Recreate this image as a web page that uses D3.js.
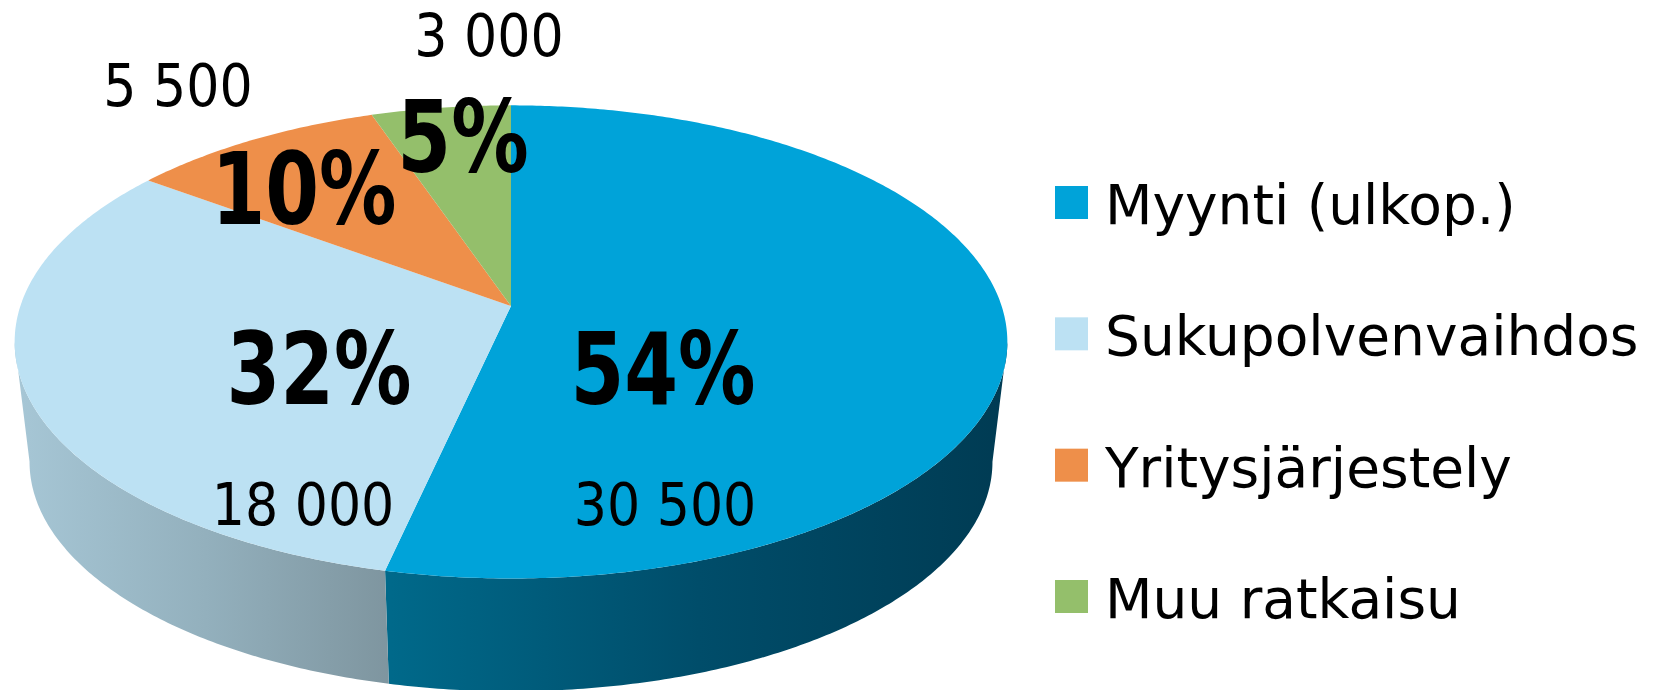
<!DOCTYPE html>
<html>
<head>
<meta charset="utf-8">
<script src="https://cdn.jsdelivr.net/npm/d3@7"></script>
<style>
  html, body { margin: 0; padding: 0; background: #fff; }
  svg { display: block; }
</style>
</head>
<body>
<div id="chart"></div>
<script>
const width = 1656;
const height = 690;

const categories = ["Myynti (ulkop.)", "Sukupolvenvaihdos", "Yritysjärjestely", "Muu ratkaisu"];
const values = [30500, 18000, 5500, 3000];
const colors = ["#00a3d9", "#bce1f3", "#ee8f4a", "#94bf6b"];

// label placement relative to the pie apex (percent label, value label)
const pctOffset = [[152, 98], [-192, 98], [-207, -82], [-48, -134]];
const valOffset = [[154, 219], [-208, 219], [-333, -200], [-22, -250]];

// perspective pie geometry
const X0 = 511, Y0 = 306;     // projected centre (apex)
const A = 490.6, B = 231.1;   // horizontal / vertical radius factors
const k = 0.1518;             // perspective strength
const depth = 121;
const shrink = 0.97;          // bottom rim is a bit further away

const svg = d3.select("#chart")
  .append("svg")
  .attr("width", width)
  .attr("height", height);

const defs = svg.append("defs");

const sideGrad = [
  { id: "sideBlue", x1: 391, x2: 1007, stops: ["#00698a", "#004d6a", "#003b53"] },
  { id: "sideLight", x1: 20, x2: 391, stops: ["#a6c6d5", "#93b0bd", "#7e959f"] }
];
sideGrad.forEach(g => {
  const lg = defs.append("linearGradient")
    .attr("id", g.id)
    .attr("gradientUnits", "userSpaceOnUse")
    .attr("x1", g.x1).attr("x2", g.x2).attr("y1", 0).attr("y2", 0);
  g.stops.forEach((c, i) => {
    lg.append("stop").attr("offset", i / (g.stops.length - 1)).attr("stop-color", c);
  });
});

function topPt(theta, r) {
  const u = Math.sin(theta), v = Math.cos(theta);
  const w = 1 + k * r * v;
  return [X0 + A * r * u / w, Y0 - B * r * v / w];
}
function bottomPt(theta) {
  const p = topPt(theta, 1);
  return [X0 + (p[0] - X0) * shrink, Y0 + (p[1] - Y0) * shrink + depth];
}
function samples(a, b) {
  const n = Math.max(2, Math.ceil((b - a) / 0.01));
  return d3.range(n + 1).map(i => a + (b - a) * i / n);
}

const pie = d3.pie().sort(null).value(d => d.value);
const data = categories.map((c, i) => ({ name: c, value: values[i], color: colors[i], i: i }));
const arcs = pie(data);
const total = d3.sum(values);

const line = d3.line();

// front side walls
const thR = Math.acos(-k), thL = 2 * Math.PI - Math.acos(-k);
const sideFill = ["url(#sideBlue)", "url(#sideLight)", "#c47034", "#739a4e"];
arcs.forEach(a => {
  const s = Math.max(a.startAngle, thR), e = Math.min(a.endAngle, thL);
  if (e <= s) return;
  const ts = samples(s, e);
  const pts = ts.map(t => topPt(t, 1)).concat(ts.slice().reverse().map(bottomPt));
  svg.append("path")
    .attr("d", line(pts) + "Z")
    .attr("fill", sideFill[a.data.i]);
});

// top faces
svg.append("g")
  .selectAll("path")
  .data(arcs)
  .join("path")
  .attr("d", a => line([[X0, Y0]].concat(samples(a.startAngle, a.endAngle).map(t => topPt(t, 1)))) + "Z")
  .attr("fill", a => a.data.color);

const fmt = d3.formatLocale({ decimal: ",", thousands: "\u00a0", grouping: [3], currency: ["", ""] }).format(",d");

// percent labels
svg.append("g")
  .selectAll("text")
  .data(arcs)
  .join("text")
  .attr("transform", a => `translate(${X0 + pctOffset[a.data.i][0]},${Y0 + pctOffset[a.data.i][1]}) scale(0.86,1)`)
  .attr("text-anchor", "middle")
  .style("font-family", "'DejaVu Sans Condensed', 'DejaVu Sans', sans-serif")
  .style("font-weight", "bold")
  .style("font-size", "100px")
  .text(a => Math.round(a.data.value / total * 100) + "%");

// value labels
svg.append("g")
  .selectAll("text")
  .data(arcs)
  .join("text")
  .attr("x", a => X0 + valOffset[a.data.i][0])
  .attr("y", a => Y0 + valOffset[a.data.i][1])
  .attr("text-anchor", "middle")
  .style("font-family", "'DejaVu Sans Condensed', 'DejaVu Sans', sans-serif")
  .style("font-size", "58px")
  .text(a => fmt(a.data.value));

// legend
const legendY = d3.scalePoint().domain(categories).range([203, 597]);
const legend = svg.append("g")
  .selectAll("g")
  .data(data)
  .join("g")
  .attr("transform", d => `translate(1055,${legendY(d.name)})`);

legend.append("rect")
  .attr("x", 0).attr("y", -17)
  .attr("width", 33).attr("height", 33)
  .attr("fill", d => d.color);

legend.append("text")
  .attr("x", 50)
  .attr("y", 21)
  .style("font-family", "'DejaVu Sans', sans-serif")
  .style("font-size", "55px")
  .text(d => d.name);
</script>
</body>
</html>
